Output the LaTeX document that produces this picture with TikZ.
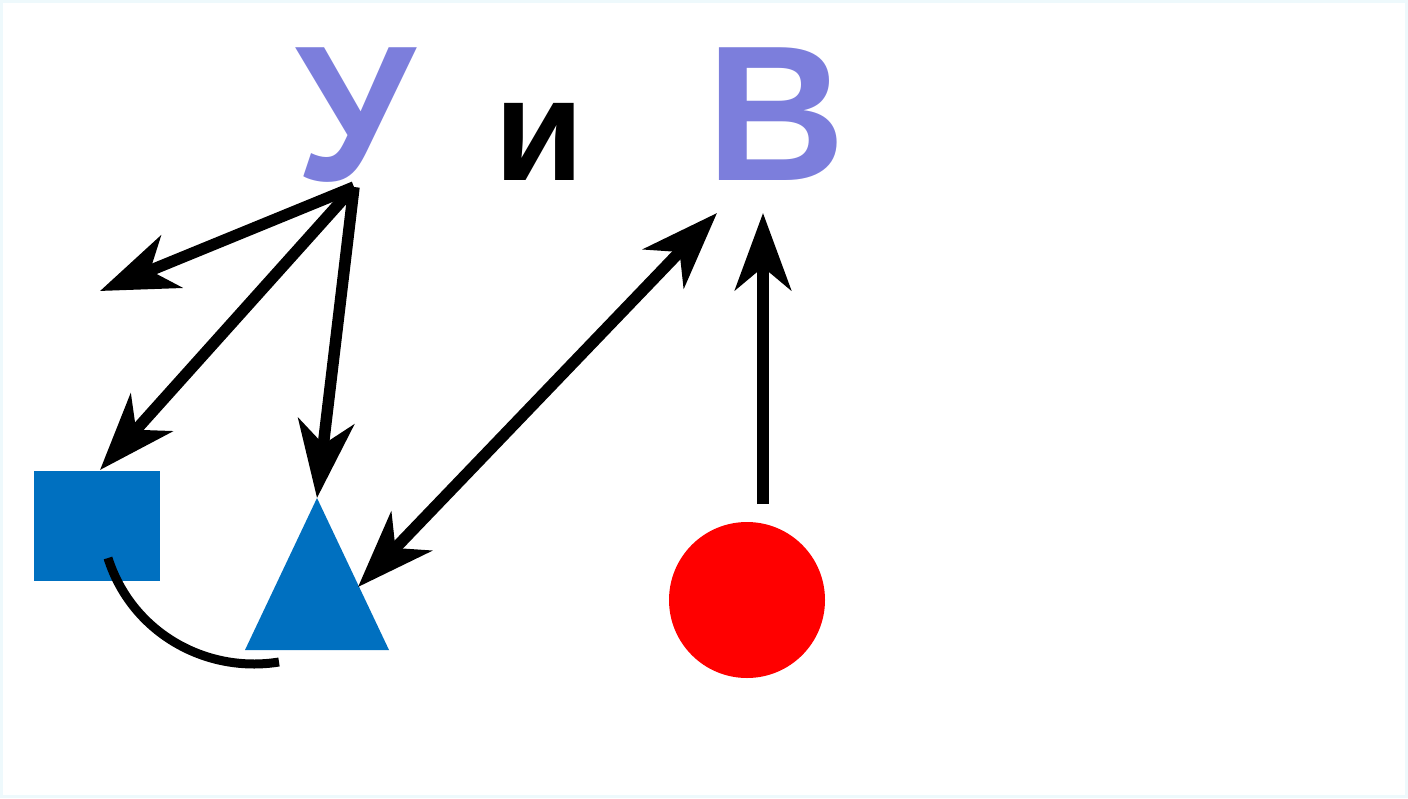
\documentclass[tikz,border=0pt]{standalone}
\usepackage{fontspec}
\setmainfont{Liberation Sans}
\usetikzlibrary{arrows.meta}
\definecolor{lett}{RGB}{124,126,220}
\definecolor{shblue}{RGB}{0,112,192}
\definecolor{framec}{RGB}{238,249,252}
\begin{document}
\begin{tikzpicture}[x=1pt,y=-1pt,
  tipA/.tip={Stealth[length=77pt,width=56pt,inset=23pt]},
  arr/.style={line width=11.5pt,-tipA},
  darr/.style={line width=11.5pt,tipA-tipA},
  letter/.style={inner sep=0pt,anchor=base,font=\bfseries\fontsize{193pt}{193pt}\selectfont},
  small/.style={inner sep=0pt,anchor=base,font=\bfseries\fontsize{146pt}{146pt}\selectfont}]
\useasboundingbox (0,0) rectangle (1408,798);
\draw[framec,line width=3pt] (1.5,1.5) rectangle (1406.5,796.5);
% letters
\node[letter,text=lett] (U) at (356,180) {У};
\node[small,text=black] (i) at (539,180) {и};
\node[letter,text=lett] (V) at (776,180) {В};
% shapes
\node[fill=shblue,minimum width=126pt,minimum height=110pt,inner sep=0pt] (sq) at (97,526) {};
\coordinate (triA) at (317,498);
\coordinate (triB) at (389,650);
\coordinate (triC) at (245,650);
\fill[shblue] (triA) -- (triB) -- (triC) -- cycle;
\node[circle,fill=red,minimum size=156pt,inner sep=0pt] (dot) at (747,600) {};
% connector end points
\coordinate (us) at (354,187);
\coordinate (free) at (100,291);
\coordinate (sqTip) at (100,470);
\coordinate (lowTip) at (358,587);
\coordinate (vTipA) at (717,213);
\coordinate (vTipB) at (763,213);
\coordinate (dotTop) at (763,504);
\coordinate (arcS) at (108,558);
\coordinate (arcE) at (279,662);
% connectors
\draw[arr] (us) -- (free);
\draw[arr] (us) -- (sqTip);
\draw[arr] (us) -- (triA);
\draw[darr] (lowTip) -- (vTipA);
\draw[arr] (dotTop) -- (vTipB);
\draw[line width=9pt] (arcS) .. controls (131,631) and (204,674) .. (arcE);
\end{tikzpicture}
\end{document}
